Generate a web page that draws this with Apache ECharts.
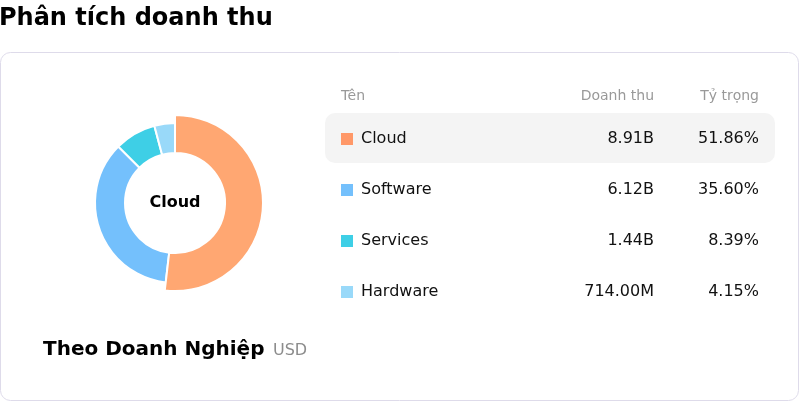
<!DOCTYPE html>
<html><head><meta charset="utf-8">
<script src="https://cdn.jsdelivr.net/npm/echarts@6/dist/echarts.min.js"></script>
<style>html,body{margin:0;padding:0;background:#fff}#c{width:800px;height:402px}</style>
</head><body><div id="c"></div>
<script>
const categories = ['Cloud', 'Software', 'Services', 'Hardware'];
const revenue = [8910000000, 6120000000, 1440000000, 714000000];
const revenueLabels = ['8.91B', '6.12B', '1.44B', '714.00M'];
const shareLabels = ['51.86%', '35.60%', '8.39%', '4.15%'];
const colors = ['#FF9868', '#74C0FC', '#3ECFE6', '#99D9F9'];
const headers = ['Tên', 'Doanh thu', 'Tỷ trọng'];

const chart = echarts.init(document.getElementById('c'), null, {renderer: 'canvas'});
const font = 'DejaVu Sans';
const option = {
  animation: false,
  textStyle: {fontFamily: font},
  title: [
    {text: 'Phân tích doanh thu', left: -1, top: 7, padding: 0, textStyle: {fontFamily: font, fontSize: 24, fontWeight: 'bold', color: '#000'}},
    {text: 'Theo Doanh Nghiệp', left: 43, top: 340, padding: 0, textStyle: {fontFamily: font, fontSize: 20, fontWeight: 'bold', color: '#000'}},
    {text: 'USD', left: 273, top: 343, padding: 0, textStyle: {fontFamily: font, fontSize: 16, fontWeight: 'normal', color: '#8c8c8c'}}
  ],
  graphic: [
    {type: 'rect', shape: {x: 0.5, y: 52.5, width: 798, height: 348, r: 10}, style: {fill: '#fff', stroke: '#dedbea', lineWidth: 1}, z: -10},
    {type: 'rect', shape: {x: 325, y: 113, width: 450, height: 50, r: 10}, style: {fill: '#f4f4f4'}, z: -5},
    {type: 'text', left: 341, top: 89, style: {text: headers[0], font: '14px "DejaVu Sans"', fill: '#999'}},
    {type: 'text', right: 146, top: 89, style: {text: headers[1], font: '14px "DejaVu Sans"', fill: '#999', align: 'right'}},
    {type: 'text', right: 41, top: 89, style: {text: headers[2], font: '14px "DejaVu Sans"', fill: '#999', align: 'right'}}
  ],
  legend: {
    orient: 'vertical',
    left: 341,
    top: 129,
    padding: 0,
    itemWidth: 12,
    itemHeight: 12,
    itemGap: 31,
    icon: 'rect',
    selectedMode: false,
    itemStyle: {borderWidth: 0},
    data: categories,
    formatter: function (name) {
      const i = categories.indexOf(name);
      return '{n|' + name + '}{v|' + revenueLabels[i] + '}{p|' + shareLabels[i] + '}';
    },
    textStyle: {
      lineHeight: 20,
      fontSize: 16,
      rich: {
        n: {width: 200, padding: [0, 0, 0, 3], fontSize: 16, color: '#111', fontFamily: font, lineHeight: 20},
        v: {width: 93, align: 'right', fontSize: 16, color: '#111', fontFamily: font, lineHeight: 20},
        p: {width: 105, align: 'right', fontSize: 16, color: '#111', fontFamily: font, lineHeight: 20}
      }
    }
  },
  series: [{
    type: 'pie',
    center: [175, 203],
    radius: [50, 80],
    startAngle: 90,
    clockwise: true,
    avoidLabelOverlap: false,
    itemStyle: {borderColor: '#fff', borderWidth: 2},
    label: {show: false, position: 'center'},
    labelLine: {show: false},
    emphasis: {
      scale: true,
      scaleSize: 8,
      label: {show: true, fontSize: 16, fontWeight: 'bold', color: '#000', fontFamily: font, formatter: '{b}'}
    },
    data: categories.map((c, i) => ({name: c, value: revenue[i], itemStyle: {color: colors[i]}}))
  }]
};
chart.setOption(option);
chart.dispatchAction({type: 'highlight', seriesIndex: 0, dataIndex: 0});
</script></body></html>
